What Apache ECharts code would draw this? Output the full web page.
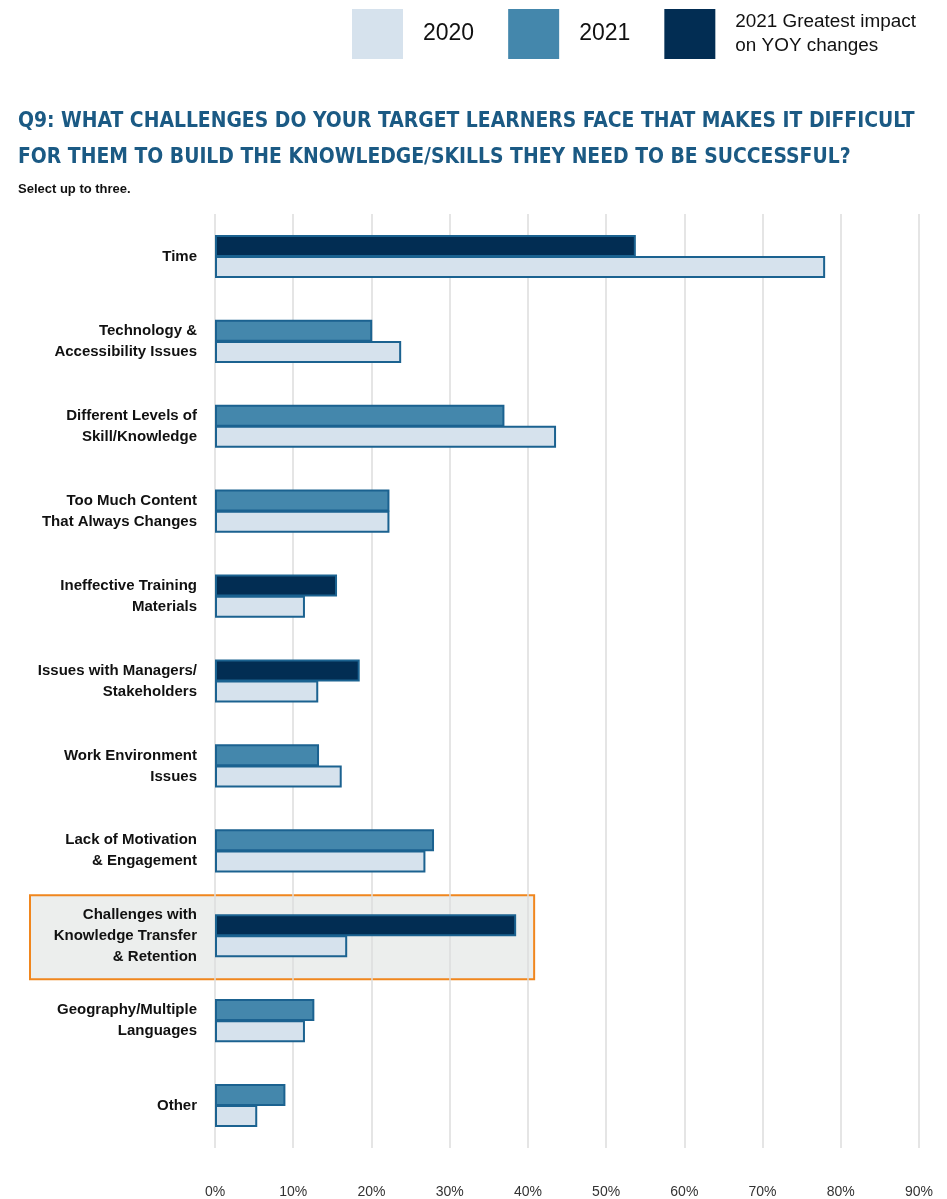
<!DOCTYPE html>
<html>
<head>
<meta charset="utf-8">
<script src="https://cdn.jsdelivr.net/npm/echarts@6/dist/echarts.min.js"></script>
<style>
html,body{margin:0;padding:0;background:#fff;}
#chart{width:947px;height:1199px;}
</style>
</head>
<body>
<div id="chart"></div>
<script>
const categories = [
  'Time',
  'Technology &\nAccessibility Issues',
  'Different Levels of\nSkill/Knowledge',
  'Too Much Content\nThat Always Changes',
  'Ineffective Training\nMaterials',
  'Issues with Managers/\nStakeholders',
  'Work Environment\nIssues',
  'Lack of Motivation\n& Engagement',
  'Challenges with\nKnowledge Transfer\n& Retention',
  'Geography/Multiple\nLanguages',
  'Other'
];
const values2020 = [78.0, 23.8, 43.6, 22.3, 11.5, 13.2, 16.2, 26.9, 16.9, 11.5, 5.4];
const values2021 = [53.8, 20.1, 37.0, 22.3, 15.6, 18.5, 13.3, 28.0, 38.5, 12.7, 9.0];
const greatestImpact = [true, false, false, false, true, true, false, false, true, false, false];
const xTicks = [0, 10, 20, 30, 40, 50, 60, 70, 80, 90];
const highlightCategory = 'Challenges with\nKnowledge Transfer\n& Retention';
const highlightRightValue = 40.8;
const legendNames = ['2020', '2021', '2021 Greatest impact\non YOY changes'];

const C_LIGHT = '#d6e2ed', C_MID = '#4487ac', C_DARK = '#022d53', C_BORDER = '#1b6290';

const chart = echarts.init(document.getElementById('chart'));
const baseBar = {
  type: 'bar', barWidth: 22, barGap: '-4%',
  emphasis: { disabled: true }
};
const option = {
  animation: false,
  title: {
    text: 'Q9: WHAT CHALLENGES DO YOUR TARGET LEARNERS FACE THAT MAKES IT DIFFICULT\nFOR THEM TO BUILD THE KNOWLEDGE/SKILLS THEY NEED TO BE SUCCESSFUL?',
    left: 18, top: 104, padding: 0,
    textStyle: { fontFamily: 'DejaVu Sans Condensed', fontWeight: 'bold', fontSize: 20.9, lineHeight: 36, color: '#1b5a84' },
    subtext: 'Select up to three.',
    subtextStyle: { fontFamily: 'Liberation Sans', fontWeight: 'bold', fontSize: 13, color: '#111' },
    itemGap: 7
  },
  legend: {
    left: 352, top: 9, padding: 0,
    itemWidth: 51, itemHeight: 50, itemGap: 34,
    icon: 'rect',
    itemStyle: { borderWidth: 0 },
    data: legendNames,
    formatter: n => n.indexOf('\n') >= 0 ? '{s|' + n.split('\n').join('}\n{s|') + '}' : '{b|' + n + '}',
    textStyle: {
      color: '#111', padding: [0, 0, 0, 15],
      rich: {
        b: { fontFamily: 'Liberation Sans', fontSize: 23, color: '#111' },
        s: { fontFamily: 'Liberation Sans', fontSize: 18.9, lineHeight: 24, color: '#111' }
      }
    },
    selectedMode: false
  },
  grid: { left: 215, right: 28, top: 214, bottom: 51, containLabel: false },
  xAxis: {
    type: 'value', min: 0, max: 90, interval: 10,
    axisLine: { show: false }, axisTick: { show: false },
    splitLine: { show: true, lineStyle: { color: '#dcdcdc', width: 1.5 } },
    axisLabel: { formatter: v => v + '%', margin: 37, fontFamily: 'Liberation Sans', fontSize: 14, color: '#333' }
  },
  yAxis: {
    type: 'category', data: categories, inverse: true,
    axisLine: { show: false }, axisTick: { show: false },
    axisLabel: { margin: 18, fontFamily: 'Liberation Sans', fontWeight: 'bold', fontSize: 15, lineHeight: 21, color: '#111', align: 'right' }
  },
  series: [
    Object.assign({}, baseBar, {
      name: '2021', stack: 'y2021', itemStyle: { color: C_MID, borderColor: C_BORDER, borderWidth: 2 },
      data: values2021.map((v, i) => greatestImpact[i] ? '-' : v)
    }),
    Object.assign({}, baseBar, {
      name: legendNames[2], stack: 'y2021', itemStyle: { color: C_DARK, borderColor: C_BORDER, borderWidth: 2 },
      data: values2021.map((v, i) => greatestImpact[i] ? v : '-')
    }),
    Object.assign({}, baseBar, {
      name: '2020', itemStyle: { color: C_LIGHT, borderColor: C_BORDER, borderWidth: 2 },
      data: values2020
    })
  ]
};
chart.setOption(option);

// highlight box behind the "Challenges" row
const idx = categories.indexOf(highlightCategory);
const yc = chart.convertToPixel({ yAxisIndex: 0 }, idx);
const band = chart.convertToPixel({ yAxisIndex: 0 }, 1) - chart.convertToPixel({ yAxisIndex: 0 }, 0);
const xr = chart.convertToPixel({ xAxisIndex: 0 }, highlightRightValue);
chart.setOption({
  graphic: [{
    type: 'rect', z: -1, silent: true,
    shape: { x: 30, y: yc - band / 2 + 2, width: xr - 30, height: band - 1 },
    style: { fill: '#eceeed', stroke: '#f0861e', lineWidth: 2 }
  }]
});
</script>
</body>
</html>
